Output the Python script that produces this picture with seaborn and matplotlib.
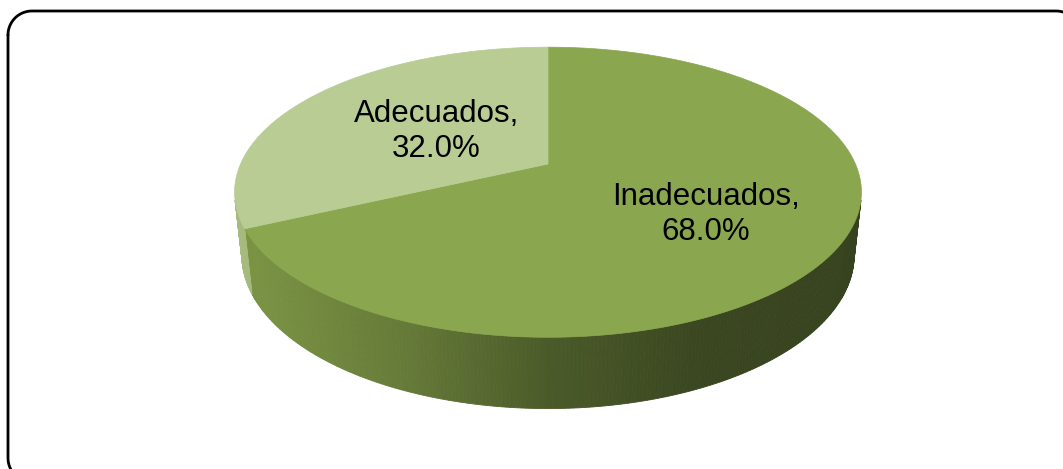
import numpy as np
import matplotlib
matplotlib.use("Agg")
import matplotlib.pyplot as plt
from matplotlib.patches import Polygon
import seaborn as sns

# data
categories = ["Inadecuados", "Adecuados"]
percentages = [68.0, 32.0]

# styles
top_colors = ["#8aa64e", "#b9cc94"]
side_light = [(0.49, 0.59, 0.27), (0.66, 0.74, 0.50)]
label_radius = [0.585, 0.45]
label_turn = [-2.6, 0.0]

sns.set_theme(style="white")
plt.rcParams["font.family"] = ["Liberation Sans", "DejaVu Sans"]

# perspective camera for the 3D pie
elev = np.radians(27)
ce, se = np.cos(elev), np.sin(elev)
D = 4.58
F = 1408.0
cx, cy = 548.0, 164.0
depth = 0.23


def project(x, y, z):
    w = D + y * ce - z * se
    return cx + F * x / w, cy - F * (y * se + z * ce) / w


fig = plt.figure(figsize=(10.63, 4.69), dpi=100)
ax = fig.add_axes([0, 0, 1, 1])
ax.set_xlim(0, 1063)
ax.set_ylim(469, 0)
ax.axis("off")

# slice angles, clockwise from 12 o'clock
fracs = np.array(percentages) / sum(percentages)
bounds = 90 - 360 * np.concatenate([[0], np.cumsum(fracs)])

# side wall: shade by horizontal position
gx = [-320, -150, 0, 150, 320]
for i, cat in enumerate(categories):
    a0, a1 = bounds[i], bounds[i + 1]
    th = np.radians(np.linspace(a0, a1, 400))
    base = np.array(side_light[i])
    for t0, t1 in zip(th[:-1], th[1:]):
        tm = 0.5 * (t0 + t1)
        # front facing only
        if -1 - D * ce * np.sin(tm) <= 0:
            continue
        p1 = project(np.cos(t0), np.sin(t0), 0)
        p2 = project(np.cos(t1), np.sin(t1), 0)
        p3 = project(np.cos(t1), np.sin(t1), -depth)
        p4 = project(np.cos(t0), np.sin(t0), -depth)
        xm = 0.5 * (p1[0] + p2[0]) - cx
        k = np.interp(xm, gx, [1.0, 0.82, 0.60, 0.47, 0.44])
        col = np.clip(base * k, 0, 1)
        ax.add_patch(Polygon([p1, p2, p3, p4], closed=True, fc=col, ec=col, lw=0.6))

# top faces
for i, cat in enumerate(categories):
    a0, a1 = bounds[i], bounds[i + 1]
    th = np.radians(np.linspace(a0, a1, 300))
    pts = [project(0, 0, 0)] + [project(np.cos(t), np.sin(t), 0) for t in th]
    ax.add_patch(Polygon(pts, closed=True, fc=top_colors[i], ec=top_colors[i], lw=0.5))

# labels
for i, cat in enumerate(categories):
    am = np.radians(0.5 * (bounds[i] + bounds[i + 1]) + label_turn[i])
    r = label_radius[i]
    lx, ly = project(r * np.cos(am), r * np.sin(am), 0)
    ax.text(lx, ly, f"{cat},\n{percentages[i]:.1f}%", ha="center", va="center",
            fontsize=22.5, color="black", linespacing=1.22)

# chart area border (rounded, runs off the right and bottom edges)
x0, y0, x1, y1, rad = 8, 11, 1080, 482, 24
arc = np.linspace(0, np.pi / 2, 30)
bx = np.concatenate([x0 + rad - rad * np.cos(arc), x1 - rad + rad * np.sin(arc),
                     x1 - rad + rad * np.cos(arc), x0 + rad - rad * np.sin(arc), [x0]])
by = np.concatenate([y0 + rad - rad * np.sin(arc), y0 + rad - rad * np.cos(arc),
                     y1 - rad + rad * np.sin(arc), y1 - rad + rad * np.cos(arc), [y0 + rad]])
ax.plot(bx, by, color="black", lw=2, clip_on=True, solid_capstyle="round")

fig.savefig("out.png", dpi=100)
